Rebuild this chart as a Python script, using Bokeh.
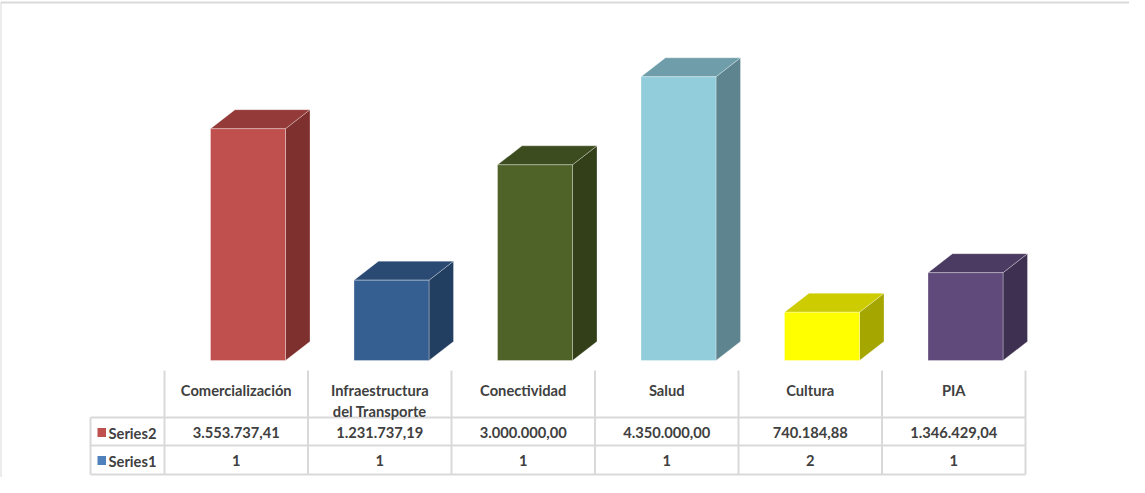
from bokeh.plotting import figure
from bokeh.models import Range1d
from bokeh.embed import file_html
from bokeh.resources import INLINE
from bokeh.core.properties import value

# ---- data ----
categories = ["Comercialización", "Infraestructura\ndel Transporte", "Conectividad", "Salud", "Cultura", "PIA"]
series2 = [3553737.41, 1231737.19, 3000000.00, 4350000.00, 740184.88, 1346429.04]
series1 = [1, 1, 1, 1, 2, 1]
series_names = ["Series2", "Series1"]
legend_colors = ["#C0504D", "#4F81BD"]
front_colors = ["#C0504D", "#355F91", "#4F6228", "#92CDDC", "#FFFF00", "#604A7B"]
top_colors = ["#943B39", "#2A4A73", "#3D4C1F", "#6F9EAA", "#CCCC00", "#4B3A61"]
side_colors = ["#7D302E", "#223E60", "#323F19", "#5E858F", "#A6A600", "#3E3050"]

FONT = "Lato"
FS = "14.7px"
TXT = "#404040"
GRID = "#D9D9D9"

W, H = 1129, 477
COLW = 143.5           # px per category
UPP = 15330.0          # value units per px
x0 = -(172 - 8) / COLW
x1 = x0 + W / COLW
base_px = 368 - 8
y_top = base_px * UPP
y_bot = -(H - base_px) * UPP

p = figure(width=W, height=H, output_backend="svg", toolbar_location=None,
           x_range=Range1d(x0, x1), y_range=Range1d(y_bot, y_top),
           min_border=0, min_border_left=0, min_border_right=0,
           min_border_top=0, min_border_bottom=0)
p.axis.visible = False
p.grid.visible = False
p.outline_line_color = None
p.background_fill_color = "white"
p.border_fill_color = "white"
p.extra_y_ranges = {"py": Range1d(H, 0)}
p.extra_x_ranges = {"px": Range1d(0, W)}

# outer border (top & left visible)
p.segment(x0=[0, 0], y0=[2, 2], x1=[W + 20, 0], y1=[2, H + 20],
          x_range_name="px", y_range_name="py", line_color=GRID, line_width=2)

# ---- 3D bars ----
off = 46 / COLW
bw = 75 / COLW
dx = 24.5 / COLW
dy = 19 * UPP
fx, fy, tx, ty, sx, sy = [], [], [], [], [], []
for i, v in enumerate(series2):
    L = i + off
    R = L + bw
    fx.append([L, R, R, L]); fy.append([0, 0, v, v])
    tx.append([L, R, R + dx, L + dx]); ty.append([v, v, v + dy, v + dy])
    sx.append([R, R + dx, R + dx, R]); sy.append([0, dy, v + dy, v])
p.patches(sx, sy, fill_color=side_colors, line_color="white", line_alpha=0.3, line_width=1)
p.patches(tx, ty, fill_color=top_colors, line_color="white", line_alpha=0.3, line_width=1)
p.patches(fx, fy, fill_color=front_colors, line_color="white", line_alpha=0.3, line_width=1)

# ---- data table ----
n = len(categories)
leg_left = (98 - 172) / COLW
row_top = 378 - 8
rows = [425 - 8, 453 - 8, 482 - 8]
# horizontal lines
p.segment(x0=[leg_left] * 3, y0=rows, x1=[n] * 3, y1=rows,
          y_range_name="py", line_color=GRID, line_width=2)
# vertical lines
vx = list(range(n + 1))
p.segment(x0=vx, y0=[row_top] * len(vx), x1=vx, y1=[rows[-1]] * len(vx),
          y_range_name="py", line_color=GRID, line_width=2)
p.segment(x0=[leg_left], y0=[rows[0]], x1=[leg_left], y1=[rows[-1]],
          y_range_name="py", line_color=GRID, line_width=2)

# header labels
hx, hy, ht = [], [], []
for i, c in enumerate(categories):
    for k, line in enumerate(c.split("\n")):
        hx.append(i + 0.5); hy.append(397 - 8 + k * 21); ht.append(line)
p.text(x=hx, y=hy, text=ht, y_range_name="py", text_font=value(FONT),
       text_font_style="bold", text_font_size=FS, text_color=TXT,
       text_align="center", text_baseline="middle")


def fmt_es(v):
    s = f"{v:,.2f}"
    return s.replace(",", "X").replace(".", ",").replace("X", ".")


row_y = [440 - 8, 468 - 8]
vals = [[fmt_es(v) for v in series2], [str(v) for v in series1]]
for r in range(2):
    p.text(x=[i + 0.5 for i in range(n)], y=[row_y[r]] * n, text=vals[r],
           y_range_name="py", text_font=value(FONT), text_font_style="bold",
           text_font_size=FS, text_color=TXT, text_align="center",
           text_baseline="middle")

# legend keys + names
kx0 = (105 - 172) / COLW
kx1 = (113.5 - 172) / COLW
p.quad(left=[kx0] * 2, right=[kx1] * 2,
       top=[row_y[0] - 4.5, row_y[1] - 4.5], bottom=[row_y[0] + 4.5, row_y[1] + 4.5],
       y_range_name="py", fill_color=legend_colors, line_color=None)
p.text(x=[(116 - 172) / COLW] * 2, y=row_y, text=series_names, y_range_name="py",
       text_font=value(FONT), text_font_style="bold", text_font_size=FS,
       text_color=TXT, text_align="left", text_baseline="middle")

open("out.html", "w").write(file_html(p, INLINE))
